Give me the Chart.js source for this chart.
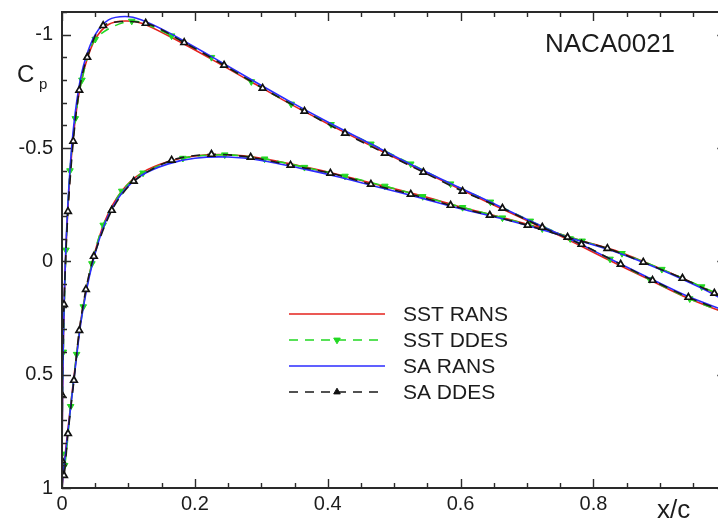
<!DOCTYPE html>
<html>
<head>
<meta charset="utf-8">
<title>NACA0021 Cp</title>
<script src="https://cdn.jsdelivr.net/npm/chart.js@4.4.1/dist/chart.umd.min.js"></script>
<style>
  html, body { margin: 0; padding: 0; background: #fff; overflow: hidden; }
  #wrap { width: 718px; height: 526px; overflow: hidden; }
  canvas { display: block; }
</style>
</head>
<body>
<div id="wrap"><canvas id="cpChart" width="732" height="526"></canvas></div>
<script>
// ---- surface pressure data, upper surface (TE -> LE) then lower surface (LE -> TE) ----
const sstRansX = [1.0, 0.94, 0.88, 0.82, 0.76, 0.70, 0.64, 0.58, 0.52, 0.46, 0.40, 0.34, 0.28, 0.22, 0.16, 0.12, 0.095, 0.07, 0.05, 0.035, 0.025, 0.016, 0.009, 0.004, 0.001, 0.0,
                  0.002, 0.006, 0.012, 0.02, 0.03, 0.045, 0.065, 0.09, 0.12, 0.16, 0.2, 0.25, 0.3, 0.36, 0.42, 0.48, 0.54, 0.6, 0.66, 0.72, 0.78, 0.84, 0.9, 0.96, 1.0];
const sstRansCp = [0.23, 0.16, 0.075, -0.01, -0.098, -0.18, -0.262, -0.345, -0.43, -0.518, -0.607, -0.70, -0.80, -0.90, -0.995, -1.05, -1.06, -1.045, -0.98, -0.865, -0.73, -0.52, -0.24, 0.10, 0.55, 1.0,
                   0.93, 0.82, 0.66, 0.46, 0.23, 0.01, -0.18, -0.31, -0.39, -0.44, -0.465, -0.47, -0.455, -0.42, -0.38, -0.335, -0.29, -0.24, -0.195, -0.147, -0.093, -0.04, 0.032, 0.11, 0.165];

const sstDdesX = [1.0, 0.945, 0.885, 0.825, 0.765, 0.705, 0.645, 0.585, 0.525, 0.465, 0.405, 0.345, 0.285, 0.225, 0.165, 0.105, 0.05, 0.03, 0.02, 0.012, 0.006, 0.002, 0.0,
                  0.004, 0.013, 0.022, 0.032, 0.045, 0.062, 0.09, 0.122, 0.182, 0.245, 0.305, 0.365, 0.426, 0.486, 0.543, 0.603, 0.663, 0.723, 0.783, 0.843, 0.903, 0.963, 1.0];
const sstDdesCp = [0.23, 0.165, 0.08, -0.01, -0.10, -0.178, -0.262, -0.342, -0.43, -0.518, -0.604, -0.694, -0.793, -0.90, -0.995, -1.06, -0.98, -0.80, -0.63, -0.40, -0.05, 0.40, 0.85,
                   0.90, 0.64, 0.41, 0.20, 0.01, -0.16, -0.31, -0.39, -0.455, -0.47, -0.452, -0.415, -0.376, -0.332, -0.286, -0.238, -0.192, -0.144, -0.09, -0.035, 0.035, 0.112, 0.16];

const saRansX = sstRansX;
const saRansCp = [0.22, 0.152, 0.068, -0.018, -0.105, -0.185, -0.268, -0.35, -0.435, -0.525, -0.615, -0.71, -0.81, -0.912, -1.01, -1.065, -1.08, -1.065, -1.0, -0.89, -0.76, -0.55, -0.26, 0.10, 0.55, 1.0,
                  0.93, 0.83, 0.67, 0.47, 0.24, 0.02, -0.17, -0.30, -0.38, -0.43, -0.455, -0.46, -0.445, -0.41, -0.37, -0.325, -0.28, -0.232, -0.19, -0.142, -0.09, -0.035, 0.035, 0.115, 0.175];

const saDdesX = [1.0, 0.943, 0.889, 0.841, 0.782, 0.723, 0.663, 0.603, 0.544, 0.486, 0.426, 0.365, 0.302, 0.244, 0.184, 0.126, 0.062, 0.038, 0.026, 0.017, 0.009, 0.003, 0.0, 0.0,
                 0.003, 0.009, 0.018, 0.026, 0.036, 0.048, 0.075, 0.108, 0.165, 0.225, 0.284, 0.344, 0.404, 0.465, 0.525, 0.585, 0.644, 0.701, 0.761, 0.821, 0.875, 0.934, 0.982, 1.0];
const saDdesCp = [0.225, 0.159, 0.084, 0.013, -0.075, -0.15, -0.234, -0.309, -0.393, -0.477, -0.565, -0.662, -0.764, -0.865, -0.965, -1.05, -1.04, -0.90, -0.755, -0.53, -0.22, 0.19, 0.59, 0.88,
                  0.945, 0.76, 0.525, 0.305, 0.124, -0.022, -0.225, -0.353, -0.446, -0.472, -0.459, -0.424, -0.389, -0.34, -0.296, -0.247, -0.203, -0.159, -0.106, -0.057, 0.004, 0.075, 0.141, 0.165];

// axis ticks
const xTickValues = [0, 0.2, 0.4, 0.6, 0.8];
const xTickLabels = ['0', '0.2', '0.4', '0.6', '0.8'];
const yTickValues = [-1, -0.5, 0, 0.5, 1];
const yTickLabels = ['-1', '-0.5', '0', '0.5', '1'];

const FONT = '"Liberation Sans", Arial, Helvetica, sans-serif';
const INK = '#1c1c1c';
const AXIS = '#2a2a2a';

const pts = (xs, ys) => xs.map((x, i) => ({ x: x, y: ys[i] }));

// frame, inward tick marks, labels and legend
const decorations = {
    id: 'decorations',
    afterDatasetsDraw(chart) {
        const { ctx, chartArea: a, scales: { x, y } } = chart;
        ctx.save();

        // inward ticks: minor every 0.05 on x, 0.1 on y
        ctx.strokeStyle = AXIS;
        ctx.lineWidth = 1.4;
        ctx.beginPath();
        for (let i = 0; i <= 20; i++) {
            const px = Math.round(x.getPixelForValue(i * 0.05)) + 0.5;
            const len = i % 4 === 0 ? 9 : 5;
            ctx.moveTo(px, a.bottom); ctx.lineTo(px, a.bottom - len);
            ctx.moveTo(px, a.top);    ctx.lineTo(px, a.top + len);
        }
        for (let k = -1; k <= 20; k++) {
            const py = Math.round(y.getPixelForValue(-1 + k * 0.1)) + 0.5;
            const len = k % 5 === 0 ? 9 : 5;
            ctx.moveTo(a.left, py);  ctx.lineTo(a.left + len, py);
            ctx.moveTo(a.right, py); ctx.lineTo(a.right - len, py);
        }
        ctx.stroke();

        // frame
        ctx.lineWidth = 2;
        ctx.strokeRect(a.left, a.top, a.right - a.left, a.bottom - a.top);

        // text
        ctx.fillStyle = INK;
        ctx.textBaseline = 'alphabetic';
        ctx.textAlign = 'left';
        ctx.font = '26px ' + FONT;
        ctx.fillText('NACA0021', 545, 52);
        ctx.font = '24px ' + FONT;
        ctx.fillText('C', 17, 82);
        ctx.font = '15px ' + FONT;
        ctx.fillText('p', 39, 89);
        ctx.font = '26px ' + FONT;
        ctx.fillText('x/c', 657, 518);

        // legend
        const lx0 = 289, lx1 = 385, tx = 403;
        let ly = 314;
        chart.data.datasets.forEach(ds => {
            ctx.strokeStyle = ds.borderColor;
            ctx.lineWidth = ds.borderWidth;
            ctx.setLineDash(ds.borderDash || []);
            ctx.beginPath();
            ctx.moveTo(lx0, ly); ctx.lineTo(lx1, ly);
            ctx.stroke();
            ctx.setLineDash([]);
            if (ds.pointRadius > 0) {
                ctx.fillStyle = ds.pointBorderColor;
                ctx.strokeStyle = ds.pointBorderColor;
                ctx.lineWidth = 1;
                Chart.helpers.drawPoint(ctx, {
                    pointStyle: ds.pointStyle, rotation: ds.pointRotation || 0,
                    radius: ds.pointRadius, borderWidth: 1
                }, (lx0 + lx1) / 2, ly);
            }
            ctx.fillStyle = INK;
            ctx.font = '21px ' + FONT;
            ctx.textBaseline = 'middle';
            ctx.fillText(ds.label, tx, ly + 1);
            ly += 26;
        });
        ctx.restore();
    }
};

new Chart(document.getElementById('cpChart'), {
    type: 'line',
    data: {
        datasets: [
            {
                label: 'SST RANS',
                data: pts(sstRansX, sstRansCp),
                borderColor: '#e5221c',
                borderWidth: 1.6,
                pointRadius: 0,
                tension: 0.3,
                order: 4
            },
            {
                label: 'SST DDES',
                data: pts(sstDdesX, sstDdesCp),
                borderColor: '#22d822',
                borderWidth: 1.6,
                borderDash: [9, 7],
                pointStyle: 'triangle',
                pointRotation: 180,
                pointRadius: 3.8,
                pointBackgroundColor: '#22d822',
                pointBorderColor: '#22d822',
                pointBorderWidth: 1,
                tension: 0.3,
                order: 3
            },
            {
                label: 'SA RANS',
                data: pts(saRansX, saRansCp),
                borderColor: '#2b2bff',
                borderWidth: 1.6,
                pointRadius: 0,
                tension: 0.3,
                order: 2
            },
            {
                label: 'SA DDES',
                data: pts(saDdesX, saDdesCp),
                borderColor: '#1a1a1a',
                borderWidth: 1.6,
                borderDash: [9, 7],
                pointStyle: 'triangle',
                pointRadius: 3.8,
                pointBackgroundColor: '#ffffff',
                pointBorderColor: '#111111',
                pointBorderWidth: 1.7,
                tension: 0.3,
                order: 1
            }
        ]
    },
    options: {
        responsive: false,
        animation: false,
        events: [],
        layout: { padding: { top: 12, right: 5, left: 0, bottom: 0 } },
        plugins: {
            legend: { display: false },
            tooltip: { enabled: false }
        },
        scales: {
            x: {
                type: 'linear',
                min: 0,
                max: 1,
                grid: { display: false, drawTicks: false },
                border: { display: false },
                afterBuildTicks: s => { s.ticks = xTickValues.map(v => ({ value: v })); },
                afterFit: s => { s.height = 38; s.paddingLeft = 0; s.paddingRight = 0; },
                ticks: {
                    autoSkip: false,
                    maxRotation: 0,
                    padding: 4,
                    color: INK,
                    font: { family: FONT, size: 20 },
                    callback: (v, i) => xTickLabels[i]
                }
            },
            y: {
                type: 'linear',
                min: -1.1,
                max: 1,
                reverse: true,
                grid: { display: false, drawTicks: false },
                border: { display: false },
                afterBuildTicks: s => { s.ticks = yTickValues.map(v => ({ value: v })); },
                afterFit: s => { s.width = 62; s.paddingTop = 0; s.paddingBottom = 0; },
                ticks: {
                    autoSkip: false,
                    padding: 9,
                    color: INK,
                    font: { family: FONT, size: 20 },
                    callback: (v, i) => yTickLabels[i]
                }
            }
        }
    },
    plugins: [decorations]
});
</script>
</body>
</html>
